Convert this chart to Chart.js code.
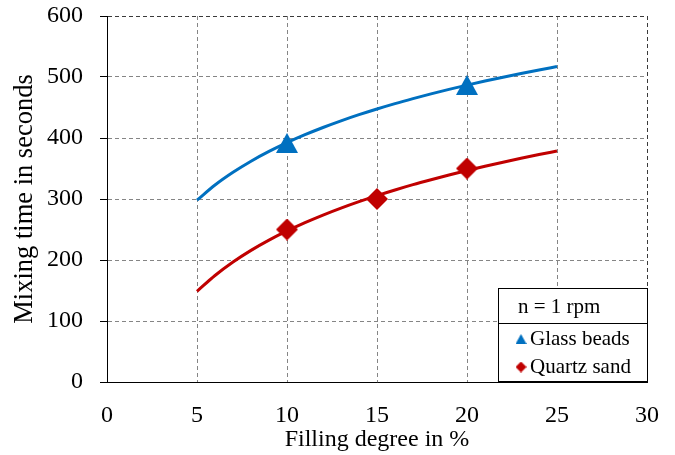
<!DOCTYPE html>
<html><head><meta charset="utf-8">
<script src="https://cdn.jsdelivr.net/npm/chart.js@4/dist/chart.umd.min.js"></script>
<style>html,body{margin:0;padding:0;background:#fff}#wrap{width:675px;height:455px}</style>
</head><body><div id="wrap"><canvas id="c" width="675" height="455"></canvas></div>
<script>
// ---- data ----
const fillDegree   = [5,6,7,8,9,10,11,12,13,14,15,16,17,18,19,20,21,22,23,24,25];
const glassTrend   = [298.0,322.9,343.8,362.0,378.0,392.4,405.4,417.2,428.1,438.2,447.6,456.4,464.6,472.4,479.7,486.7,493.4,499.7,505.7,511.5,517.1];
const quartzTrend  = [148.6,174.6,196.7,215.8,232.6,247.6,261.3,273.7,285.1,295.7,305.6,314.8,323.5,331.6,339.4,346.7,353.7,360.3,366.7,372.8,378.6];
const glassX  = [10,20];
const glassY  = [392,487];
const quartzX = [10,15,20];
const quartzY = [250,300,350];
const xTickValues = [0,5,10,15,20,25,30];
const yTickValues = [0,100,200,300,400,500,600];
const seriesNames = ['Glass beads','Quartz sand'];
const legendTitle = 'n = 1 rpm';
const xTitle = 'Filling degree in %';
const yTitle = 'Mixing time in seconds';

const BLUE = '#0070C0', RED = '#C00000';
const FONT = "'Liberation Serif', 'Times New Roman', serif";

function pts(xs, ys){ return xs.map((x,i)=>({x:x, y:ys[i]})); }

function triImage(w, h, color){
  const c = document.createElement('canvas'); c.width = w; c.height = h;
  const g = c.getContext('2d'); g.fillStyle = color;
  g.beginPath(); g.moveTo(w/2,0); g.lineTo(w,h); g.lineTo(0,h); g.closePath(); g.fill();
  return c;
}
function diaImage(w, h, color){
  const c = document.createElement('canvas'); c.width = w; c.height = h;
  const g = c.getContext('2d'); g.fillStyle = color;
  g.beginPath(); g.moveTo(w/2,0); g.lineTo(w,h/2); g.lineTo(w/2,h); g.lineTo(0,h/2); g.closePath(); g.fill();
  return c;
}
const bigTri = triImage(22,20,BLUE), bigDia = diaImage(22,22,RED);
const smallTri = triImage(11,10,BLUE), smallDia = diaImage(11,11,RED);

const boxLegend = {
  id:'boxLegend',
  afterDraw(chart){
    const {ctx, chartArea} = chart;
    const w = 149, h = 93;
    const x0 = Math.round(chartArea.right) - w, y0 = Math.round(chartArea.bottom) - h - 1;
    ctx.save();
    ctx.fillStyle = '#fff';
    ctx.fillRect(x0, y0, w, h);
    ctx.strokeStyle = '#000'; ctx.lineWidth = 1;
    ctx.strokeRect(x0+0.5, y0+0.5, w, h);
    ctx.beginPath(); ctx.moveTo(x0, y0+35.5); ctx.lineTo(x0+w, y0+35.5); ctx.stroke();
    ctx.fillStyle = '#000';
    ctx.font = '21px ' + FONT;
    ctx.textBaseline = 'middle';
    ctx.textAlign = 'left';
    ctx.fillText(legendTitle, x0+20, y0+19);
    const icons = [smallTri, smallDia];
    [0,1].forEach(i=>{
      const yy = y0 + 51 + i*28;
      const im = icons[i];
      ctx.drawImage(im, x0+23-im.width/2, yy-im.height/2);
      ctx.fillText(seriesNames[i], x0+32, yy);
    });
    ctx.restore();
  }
};

const gridColor = (last) => (c) => (c.tick && c.tick.value === last) ? '#3a3a3a' : '#858585';

new Chart(document.getElementById('c'), {
  type:'line',
  data:{
    datasets:[
      {label:seriesNames[0], data:pts(glassX,glassY), showLine:false, pointStyle:bigTri, pointRadius:11, backgroundColor:BLUE, borderColor:BLUE, order:0},
      {label:seriesNames[1], data:pts(quartzX,quartzY), showLine:false, pointStyle:bigDia, pointRadius:11, backgroundColor:RED, borderColor:RED, order:0},
      {label:'fit glass', data:pts(fillDegree,glassTrend), borderColor:BLUE, borderWidth:3, pointRadius:0, cubicInterpolationMode:'monotone', fill:false, order:1},
      {label:'fit quartz', data:pts(fillDegree,quartzTrend), borderColor:RED, borderWidth:3, pointRadius:0, cubicInterpolationMode:'monotone', fill:false, order:1}
    ]
  },
  options:{
    responsive:false, animation:false, devicePixelRatio:1,
    layout:{padding:{left:0, top:16, right:28, bottom:0}},
    plugins:{legend:{display:false}, tooltip:{enabled:false}},
    scales:{
      x:{
        type:'linear', min:0, max:30,
        afterBuildTicks:(s)=>{ s.ticks = xTickValues.map(v=>({value:v})); },
        afterFit:(s)=>{ s.height = 73; s.paddingLeft = 0; s.paddingRight = 0; },
        grid:{color:gridColor(30), lineWidth:1, drawTicks:false},
        border:{display:true, color:'#000', width:1, dash:[4,3]},
        ticks:{color:'#000', font:{family:FONT, size:24}, padding:19, maxRotation:0},
        title:{display:true, text:xTitle, color:'#000', font:{family:FONT, size:24}, padding:{top:0,bottom:1}}
      },
      y:{
        type:'linear', min:0, max:600,
        afterBuildTicks:(s)=>{ s.ticks = yTickValues.map(v=>({value:v})); },
        afterFit:(s)=>{ s.width = 107; s.paddingTop = 0; s.paddingBottom = 0; },
        grid:{color:gridColor(600), lineWidth:1, drawTicks:true, tickLength:7, tickColor:'#000', tickBorderDash:[]},
        border:{display:true, color:'#000', width:1, dash:[4,3]},
        ticks:{color:'#000', font:{family:FONT, size:24}, padding:17},
        title:{display:true, text:yTitle, color:'#000', font:{family:FONT, size:26.5}, padding:{top:9,bottom:0}}
      }
    }
  },
  plugins:[boxLegend]
});
</script></body></html>
